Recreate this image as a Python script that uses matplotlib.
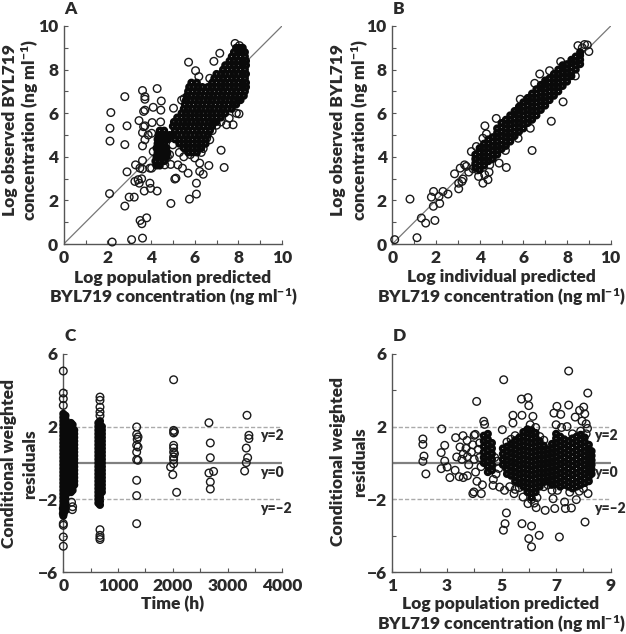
import matplotlib
matplotlib.use('Agg')
import matplotlib.pyplot as plt

W, H = 626, 634

# --- panel A: (x, y) scattered points and dense cloud as (y, [x...]) rows
a_points = [(2.16,6.03),(2.12,5.31),(2.12,4.72),(2.8,6.76),(2.9,5.42),(2.8,4.56),(2.9,3.31),(2.1,2.31),
            (3.0,2.15),(3.23,2.15),(2.8,1.74),(2.22,0.09),(3.11,0.2),(3.61,0.27),(3.5,1.08),(3.58,0.93),
            (3.8,1.2),(3.61,7.04),(3.72,6.76),(3.72,6.64),(4.28,7.13),(4.47,6.56),(4.1,6.27),(4.45,6.14),
            (3.72,6.14),(3.66,6.08),(3.45,5.66),(4.05,5.57),(4.44,5.6),(3.72,5.42),(3.66,5.38),(3.61,5.11),
            (3.72,4.78),(3.61,4.5),(3.87,5.0),(4.03,5.08),(4.1,4.24),(3.61,3.83),(3.29,3.63),(3.49,3.48),
            (3.61,3.44),(3.95,3.48),(4.03,3.48),(3.41,2.95),(3.26,2.87),(3.57,2.99),(3.46,2.79),(3.95,2.79),
            (3.98,2.55),(3.69,2.43),(4.28,2.43),(4.91,1.86),(5.14,3.02),(5.09,2.98),(5.23,3.63),(5.7,3.25),
            (5.44,3.48),(6.08,2.79),(6.08,2.29),(5.76,2.06),(6.23,3.71),(6.23,3.33),(6.39,3.2),(6.65,3.6),
            (7.21,4.3),(7.35,3.51),(4.63,3.63),(5.72,8.34),(6.04,7.95),(7.15,8.75),(6.88,8.38),(6.19,7.68),
            (6.69,7.6),(5.03,6.23),(5.4,6.6),(5.52,6.67),(7.76,5.47),(7.46,5.47),(7.91,6.0),(8.03,5.97),
            (7.58,5.77),(6.69,4.78),(6.39,4.38),(5.3,4.2),(5.5,4.0),(5.8,4.1),(6.0,3.95),(6.3,4.2),(4.85,4.1),
            (7.0,5.45),(6.8,5.2),(7.2,5.6),(6.55,4.85),(4.9,3.65),(4.75,4.0),(5.0,4.55),(7.85,9.2),(8.05,9.1)]
a_rows = [(3.6,[4.25,4.4]),
          (3.8,[4.2,4.4,4.6]),
          (4.0,[4.25,4.4,4.55,4.7]),
          (4.2,[4.3,4.45,4.6,4.75,5.7,5.9,6.1]),
          (4.4,[4.25,4.4,4.55,4.7,5.5,5.7,5.9,6.1,6.3]),
          (4.6,[4.3,4.45,4.6,5.3,5.5,5.7,5.9,6.1,6.3,6.5]),
          (4.8,[4.3,4.45,4.6,4.75,5.1,5.3,5.5,5.7,5.9,6.1,6.3,6.5]),
          (5.0,[4.35,4.5,4.65,4.85,5.0,5.2,5.4,5.6,5.8,6.0,6.2,6.4,6.6]),
          (5.2,[4.4,4.6,5.1,5.3,5.5,5.7,5.9,6.1,6.3,6.5,6.7]),
          (5.4,[5.0,5.2,5.4,5.6,5.8,6.0,6.2,6.4,6.6,6.8]),
          (5.6,[5.05,5.25,5.45,5.65,5.85,6.05,6.25,6.45,6.65,6.85,7.0]),
          (5.8,[5.2,5.4,5.6,5.8,6.0,6.2,6.4,6.6,6.8,7.0,7.2]),
          (6.0,[5.4,5.6,5.8,6.0,6.2,6.4,6.6,6.8,7.0,7.2,7.4]),
          (6.2,[5.5,5.7,5.9,6.1,6.3,6.5,6.7,6.9,7.1,7.3,7.5,7.7]),
          (6.4,[5.55,5.75,5.95,6.15,6.35,6.55,6.75,6.95,7.15,7.35,7.55,7.75,7.9]),
          (6.6,[5.6,5.8,6.0,6.2,6.4,6.6,6.8,7.0,7.2,7.4,7.6,7.8,8.0,8.1]),
          (6.8,[5.65,5.85,6.05,6.25,6.45,6.65,6.85,7.05,7.25,7.45,7.65,7.85,8.05,8.25]),
          (7.0,[5.7,5.9,6.1,6.3,6.5,6.7,6.9,7.1,7.3,7.5,7.7,7.9,8.1,8.3]),
          (7.2,[5.75,5.95,6.15,6.35,6.6,6.8,7.0,7.2,7.4,7.6,7.8,8.0,8.2,8.35]),
          (7.4,[5.85,6.1,6.8,7.0,7.2,7.4,7.6,7.8,8.0,8.2,8.35]),
          (7.6,[6.9,7.1,7.3,7.5,7.7,7.9,8.1,8.3]),
          (7.8,[7.0,7.2,7.4,7.6,7.8,8.0,8.2,8.35]),
          (8.0,[7.3,7.5,7.7,7.9,8.1,8.3]),
          (8.2,[7.4,7.6,7.8,8.0,8.2,8.35]),
          (8.4,[7.6,7.8,8.0,8.2,8.35]),
          (8.6,[7.7,7.9,8.1,8.3]),
          (8.8,[7.8,8.0,8.15,8.3]),
          (9.0,[7.9,8.05,8.2])]

# --- panel B: scattered points and cloud as (x, [y...]) columns
b_points = [(0.81,2.06),(0.11,0.2),(1.13,0.29),(1.33,1.19),(1.53,0.96),(1.95,1.08),(1.88,1.73),(1.79,2.15),
            (1.89,2.41),(2.14,2.18),(2.17,1.86),(2.32,2.41),(2.55,2.29),(2.85,3.22),(3.04,2.53),(3.04,2.79),
            (3.19,2.87),(3.11,3.48),(3.31,3.63),(3.39,3.56),(3.24,2.98),(3.62,4.24),(3.85,4.47),(3.95,3.1),
            (4.15,2.79),(4.38,2.95),(4.23,3.18),(4.43,3.3),(4.46,3.63),(4.89,3.71),(5.22,3.51),(5.18,4.29),
            (6.4,4.29),(7.28,5.63),(7.82,6.52),(6.32,5.31),(5.76,4.85),(4.24,5.42),(4.31,5.05),(4.76,5.76),
            (4.15,4.85),(6.75,7.8),(7.2,7.95),(7.71,8.37),(6.52,7.37),(5.86,6.64),(8.38,7.71),(8.5,9.1),
            (8.93,9.13),(9.0,8.83),(8.7,9.0),(8.8,9.15),(3.7,3.45),(3.5,3.3),(3.9,3.4)]
b_cols = [(3.8,[3.5,3.7,3.9,4.1]),
          (4.0,[3.4,3.6,3.8,4.0,4.2,4.4]),
          (4.2,[3.6,3.8,4.0,4.2,4.4,4.6]),
          (4.4,[3.8,4.0,4.2,4.4,4.6,4.8]),
          (4.6,[3.9,4.1,4.3,4.5,4.7,4.9]),
          (4.8,[4.1,4.3,4.5,4.7,4.9,5.1,5.3]),
          (5.0,[4.35,4.55,4.75,4.95,5.15,5.35,5.55]),
          (5.2,[4.5,4.7,4.9,5.1,5.3,5.5,5.7]),
          (5.4,[4.7,4.9,5.1,5.3,5.5,5.7,5.9]),
          (5.6,[4.95,5.15,5.35,5.55,5.75,5.95,6.1]),
          (5.8,[5.15,5.35,5.55,5.75,5.95,6.15,6.3]),
          (6.0,[5.3,5.5,5.7,5.9,6.1,6.3,6.5]),
          (6.2,[5.55,5.75,5.95,6.15,6.35,6.55,6.7]),
          (6.4,[5.7,5.9,6.1,6.3,6.5,6.7,6.9]),
          (6.6,[5.9,6.1,6.3,6.5,6.7,6.9,7.1]),
          (6.8,[6.15,6.35,6.55,6.75,6.95,7.15,7.3]),
          (7.0,[6.35,6.55,6.75,6.95,7.15,7.35,7.5]),
          (7.2,[6.6,6.8,7.0,7.2,7.4,7.6]),
          (7.4,[6.8,7.0,7.2,7.4,7.6,7.8]),
          (7.6,[7.0,7.2,7.4,7.6,7.8,8.0]),
          (7.8,[7.25,7.45,7.65,7.85,8.05,8.2]),
          (8.0,[7.45,7.65,7.85,8.05,8.25]),
          (8.2,[7.7,7.9,8.1,8.3,8.45]),
          (8.4,[8.0,8.2,8.4,8.6]),
          (8.6,[8.25,8.45,8.65,8.8])]

# --- panel C: time after dose
c_points = [(0,5.05),(0,3.84),(0,3.53),(0,3.16),(0,-3.33),(0,-3.42),(0,-4.06),(0,-4.57),(0,-2.78),(0,-2.5),
            (165,-2.56),(170,-2.4),(150,-2.15),(670,3.62),(670,3.44),(670,3.07),(670,2.8),(670,2.6),
            (670,-3.66),(670,-3.97),(670,-4.1),(670,-4.2),
            (1340,1.98),(1340,1.57),(1365,1.43),(1350,1.3),(1340,0.97),(1365,0.88),(1340,0.6),(1340,0.18),(1365,0.15),
            (1340,-0.95),(1340,-1.79),(1340,-3.33),
            (2015,4.57),(2015,1.79),(2015,1.65),(2030,1.72),(2015,0.97),(2015,0.82),(2015,0.6),(2030,0.51),(2015,0.33),
            (2015,0.18),(2015,-0.04),(1960,-0.22),(2000,-0.64),(2070,-1.61),
            (2660,2.21),(2685,1.1),(2685,0.29),(2660,-0.55),(2745,-0.46),(2685,-1.04),(2685,-1.43),
            (3355,2.62),(3390,1.52),(3390,1.34),(3342,0.82),(3367,0.29),(3342,0.02),(3312,-0.44)]
c_cols = [(0,[-2.9,-2.7,-2.5,-2.3,-2.1,-1.9,-1.7,-1.5,-1.3,-1.1,-0.9,-0.7,-0.5,-0.3,-0.1,0.1,0.3,0.5,0.7,0.9,1.1,1.3,1.5,1.7,1.9,2.1,2.3,2.5,2.7]),
          (40,[-2.6,-2.4,-2.2,-2.0,-1.8,-1.6,-1.4,-1.2,-1.0,-0.8,-0.6,-0.4,-0.2,0.0,0.2,0.4,0.6,0.8,1.0,1.2,1.4,1.6,1.8,2.0,2.2,2.4,2.6]),
          (85,[-1.6,-1.4,-1.2,-1.0,-0.8,-0.6,-0.4,-0.2,0.0,0.2,0.4,0.6,0.8,1.0,1.2,1.4]),
          (140,[-1.6,-1.4,-1.2,-1.0,-0.8,-0.6,-0.4,-0.2,0.0,0.2,0.4,0.6,0.8,1.0,1.2,1.4,1.6,1.8,2.0,2.2]),
          (170,[-1.5,-1.3,-1.1,-0.9,-0.7,-0.5,-0.3,-0.1,0.1,0.3,0.5,0.7,0.9,1.1,1.3,1.5,1.7,1.9,2.1]),
          (200,[-1.2,-1.0,-0.8,-0.6,-0.4,-0.2,0.0,0.2,0.4,0.6,0.8,1.0,1.2,1.4,1.6,1.8]),
          (640,[-2.2,-2.0,-1.8,-1.6,-1.4,-1.2,-1.0,-0.8,-0.6,-0.4,-0.2,0.0,0.2,0.4,0.6,0.8,1.0,1.2,1.4,1.6,1.8,2.0,2.2]),
          (670,[-2.3,-2.1,-1.9,-1.7,-1.5,-1.3,-1.1,-0.9,-0.7,-0.5,-0.3,-0.1,0.1,0.3,0.5,0.7,0.9,1.1,1.3,1.5,1.7,1.9,2.1,2.3]),
          (705,[-1.6,-1.4,-1.2,-1.0,-0.8,-0.6,-0.4,-0.2,0.0,0.2,0.4,0.6,0.8,1.0,1.2,1.4,1.6,1.8,2.0])]

# --- panel D: residuals against population prediction
d_points = [(5.08,4.57),(7.46,5.05),(8.16,3.84),(4.09,3.38),(5.73,3.51),(5.97,3.59),(6.0,3.15),(7.03,3.11),
            (7.46,3.18),(8.01,3.07),(5.42,2.62),(5.75,2.62),(6.15,2.56),(6.92,2.74),(7.17,2.67),(7.86,2.89),
            (8.05,2.7),(7.7,2.52),(4.35,2.29),(4.38,2.12),(5.42,2.2),(5.03,1.83),(2.81,1.87),(2.12,1.32),
            (2.12,1.02),(2.92,0.97),(2.79,0.57),(2.16,0.38),(2.12,0.09),(2.23,-0.6),(2.92,0.11),(2.79,-0.31),
            (3.01,-0.22),(3.11,-0.8),(3.32,1.39),(3.36,0.33),(3.48,0.88),(3.59,1.5),(3.74,1.24),(4.0,1.52),
            (4.04,1.57),(3.95,-1.68),(3.99,-1.59),(4.26,-1.68),(4.69,-1.23),(4.93,-1.32),(5.18,-2.74),(5.13,-3.33),
            (5.07,-3.69),(5.75,-3.33),(6.1,-3.46),(6.0,-4.15),(6.1,-4.6),(6.38,-3.97),(7.12,-4.06),(8.06,-3.24),
            (6.6,-2.6),(6.95,-2.5),(7.34,-2.5),(7.56,-2.47),(6.27,-2.45),(5.97,-2.23),(6.89,-1.96),(7.31,-2.14),
            (7.74,-2.01),(8.17,-1.68),(5.46,-1.68),(5.11,-1.5),(5.79,-1.87),(3.3,-0.4),(3.45,-0.75),(3.6,-0.8),
            (3.55,0.2),(3.6,0.5),(3.7,0.8),(3.75,0.35),(3.8,-0.1),(3.75,-0.7),(3.9,0.6),(3.95,1.0),(4.0,0.2),
            (4.05,-0.5),(4.1,-1.0),(4.15,0.75),(4.2,1.1),(4.2,0.3),(4.25,-0.2),(4.3,-1.2),(4.75,0.3),(4.85,0.1),
            (4.8,-0.6),(4.9,-0.3),(4.7,-0.9),(6.1,-2.0),(6.2,-2.2),(6.3,-1.9),(6.05,2.1),(6.25,1.95),(7.2,1.95),
            (7.0,2.1),(7.4,2.0),(7.95,2.3),(8.1,2.15),(8.15,1.9),(5.3,-1.3),(5.5,-1.45),(5.65,-1.35),(6.55,-1.3),
            (6.7,-1.2),(6.85,-1.5),(7.05,-1.5),(7.5,-1.6),(7.85,-1.55),(8.0,-1.4),(7.6,1.6),(7.9,1.75),(8.1,1.6),
            (6.4,1.45),(6.55,1.25),(5.2,1.15),(5.35,1.3),(5.5,1.5)]
d_cols = [(4.35,[0.0,0.3,0.6,0.9,1.2,1.5]),
          (4.5,[-0.5,-0.2,0.1,0.4,0.7,1.0,1.3,1.6]),
          (4.65,[-0.4,-0.1,0.2,0.5,0.8,1.1]),
          (5.05,[-0.1,0.2,0.5,0.8]),
          (5.2,[-0.6,-0.35,-0.1,0.15,0.4,0.65,0.9]),
          (5.35,[-0.7,-0.45,-0.2,0.05,0.3,0.55,0.8,1.05]),
          (5.5,[-1.0,-0.75,-0.5,-0.25,0.0,0.25,0.5,0.75,1.0,1.25]),
          (5.65,[-1.1,-0.85,-0.6,-0.35,-0.1,0.15,0.4,0.65,0.9,1.15,1.4]),
          (5.8,[-1.3,-1.05,-0.8,-0.55,-0.3,-0.05,0.2,0.45,0.7,0.95,1.2,1.45,1.7]),
          (5.95,[-1.6,-1.35,-1.1,-0.85,-0.6,-0.35,-0.1,0.15,0.4,0.65,0.9,1.15,1.4,1.65,1.85]),
          (6.1,[-1.9,-1.65,-1.4,-1.15,-0.9,-0.65,-0.4,-0.15,0.1,0.35,0.6,0.85,1.1,1.35,1.6,1.8]),
          (6.25,[-1.6,-1.35,-1.1,-0.85,-0.6,-0.35,-0.1,0.15,0.4,0.65,0.9,1.15,1.4,1.65]),
          (6.4,[-1.3,-1.05,-0.8,-0.55,-0.3,-0.05,0.2,0.45,0.7,0.95,1.2]),
          (6.55,[-1.05,-0.8,-0.55,-0.3,-0.05,0.2,0.45,0.7,0.95]),
          (6.7,[-1.0,-0.75,-0.5,-0.25,0.0,0.25,0.5,0.75]),
          (6.85,[-1.2,-0.95,-0.7,-0.45,-0.2,0.05,0.3,0.55,0.8,1.05]),
          (7.0,[-1.15,-0.9,-0.65,-0.4,-0.15,0.1,0.35,0.6,0.85,1.1,1.35,1.6]),
          (7.15,[-1.3,-1.05,-0.8,-0.55,-0.3,-0.05,0.2,0.45,0.7,0.95,1.2,1.45]),
          (7.3,[-1.2,-0.95,-0.7,-0.45,-0.2,0.05,0.3,0.55,0.8,1.05,1.3]),
          (7.45,[-1.3,-1.05,-0.8,-0.55,-0.3,-0.05,0.2,0.45,0.7,0.95,1.2]),
          (7.6,[-1.4,-1.15,-0.9,-0.65,-0.4,-0.15,0.1,0.35,0.6,0.85,1.1,1.35]),
          (7.75,[-1.3,-1.05,-0.8,-0.55,-0.3,-0.05,0.2,0.45,0.7,0.95,1.2,1.45]),
          (7.9,[-1.2,-0.95,-0.7,-0.45,-0.2,0.05,0.3,0.55,0.8,1.05,1.3,1.55]),
          (8.05,[-1.1,-0.85,-0.6,-0.35,-0.1,0.15,0.4,0.65,0.9,1.15,1.4]),
          (8.2,[-1.0,-0.75,-0.5,-0.25,0.0,0.25,0.5,0.75,1.0]),
          (8.3,[-0.6,-0.35,-0.1,0.15,0.4,0.65])]

plt.rcParams['font.family'] = ['Lato', 'DejaVu Sans']
plt.rcParams['font.weight'] = 'heavy'
plt.rcParams['mathtext.fontset'] = 'custom'
plt.rcParams['mathtext.rm'] = 'Lato:heavy'
plt.rcParams['mathtext.default'] = 'regular'

TXT = '#2a2a2a'
AX = '#555555'
FS = 12.5
FS_REF = 10


def add_axes(fig, left, top, right, bottom):
    return fig.add_axes([left / W, 1 - bottom / H, (right - left) / W, (bottom - top) / H])


def label(fig, x, y, s, **kw):
    fig.text(x / W, 1 - y / H, s, color=TXT, ha='center', va='center', fontsize=FS, **kw)


def rings(ax, pts):
    ax.scatter([p[0] for p in pts], [p[1] for p in pts], s=30, facecolors='none',
               edgecolors='#1a1a1a', linewidths=1.0, clip_on=False, zorder=3)


def cloud(ax, pts):
    # heavier stroke so that the overlapping rings close up to solid black
    ax.scatter([p[0] for p in pts], [p[1] for p in pts], s=11, facecolors='none',
               edgecolors='#0a0a0a', linewidths=2.5, clip_on=False, zorder=3)


def style(ax, xlim, ylim, xticks, xminor, yticks, yminor, xlabels=None, ylabels=None):
    ax.set_xlim(xlim)
    ax.set_ylim(ylim)
    ax.spines['top'].set_visible(False)
    ax.spines['right'].set_visible(False)
    for s in ['left', 'bottom']:
        ax.spines[s].set_color(AX)
        ax.spines[s].set_linewidth(1.0)
    ax.set_xticks(xticks)
    ax.set_xticks(xminor, minor=True)
    ax.set_yticks(yticks)
    ax.set_yticks(yminor, minor=True)
    if xlabels:
        ax.set_xticklabels(xlabels)
    if ylabels:
        ax.set_yticklabels(ylabels)
    ax.tick_params(which='both', direction='in', length=3, width=0.8, color=AX,
                   labelsize=FS, labelcolor=TXT, pad=4)


def rows_to_points(rows):
    return [(x, y) for y, xs in rows for x in xs]


def cols_to_points(cols):
    return [(x, y) for x, ys in cols for y in ys]


fig = plt.figure(figsize=(W / 100, H / 100), dpi=100)

# A
ax_a = add_axes(fig, 63.7, 26, 282, 244)
style(ax_a, (0, 10), (0, 10), [0, 2, 4, 6, 8, 10], [1, 3, 5, 7, 9], [0, 2, 4, 6, 8, 10], [1, 3, 5, 7, 9])
ax_a.plot([0, 10], [0, 10], color='#777777', lw=0.9, zorder=2)
rings(ax_a, a_points)
cloud(ax_a, rows_to_points(a_rows))

# B
ax_b = add_axes(fig, 392.3, 26, 610.7, 244)
style(ax_b, (0, 10), (0, 10), [0, 2, 4, 6, 8, 10], [1, 3, 5, 7, 9], [0, 2, 4, 6, 8, 10], [1, 3, 5, 7, 9])
ax_b.plot([0, 10], [0, 10], color='#777777', lw=0.9, zorder=2)
rings(ax_b, b_points)
cloud(ax_b, cols_to_points(b_cols))

# C
ax_c = add_axes(fig, 63.3, 353.7, 282.3, 572.3)
style(ax_c, (0, 4000), (-6, 6), [0, 1000, 2000, 3000, 4000], [500, 1500, 2500, 3500],
      [-6, -2, 2, 6], [-4, 0, 4], ylabels=['\u22126', '\u22122', '2', '6'])
ax_c.axhline(0, color='#808080', lw=1.6, zorder=2)
for yy in (2, -2):
    ax_c.axhline(yy, color='#aaaaaa', lw=1.0, ls=(0, (3, 1.5)), zorder=2)
rings(ax_c, c_points)
cloud(ax_c, cols_to_points(c_cols))
ax_c.text(3590, 1.5, 'y=2', color=TXT, fontsize=FS_REF, va='center', clip_on=False)
ax_c.text(3590, -0.5, 'y=0', color=TXT, fontsize=FS_REF, va='center', clip_on=False)
ax_c.text(3590, -2.5, 'y=\u20132', color=TXT, fontsize=FS_REF, va='center', clip_on=False)

# D
ax_d = add_axes(fig, 392.3, 353.7, 610.7, 572.3)
style(ax_d, (1, 9), (-6, 6), [1, 3, 5, 7, 9], [2, 4, 6, 8],
      [-6, -2, 2, 6], [-4, 0, 4], ylabels=['\u22126', '\u22122', '2', '6'])
ax_d.axhline(0, color='#808080', lw=1.6, zorder=2)
for yy in (2, -2):
    ax_d.axhline(yy, color='#aaaaaa', lw=1.0, ls=(0, (3, 1.5)), zorder=2)
rings(ax_d, d_points)
cloud(ax_d, cols_to_points(d_cols))
ax_d.text(8.38, 1.5, 'y=2', color=TXT, fontsize=FS_REF, va='center', clip_on=False)
ax_d.text(8.38, -0.5, 'y=0', color=TXT, fontsize=FS_REF, va='center', clip_on=False)
ax_d.text(8.38, -2.5, 'y=\u20132', color=TXT, fontsize=FS_REF, va='center', clip_on=False)

# panel letters
for x, y, s in [(70, 9, 'A'), (399, 9, 'B'), (70, 336, 'C'), (399, 336, 'D')]:
    label(fig, x, y, s)

conc = 'BYL719 concentration (ng ml$^{-1}$)'

# axis titles
label(fig, 10, 130, 'Log observed BYL719', rotation=90)
label(fig, 30, 130, 'concentration (ng ml$^{-1}$)', rotation=90)
label(fig, 338, 130, 'Log observed BYL719', rotation=90)
label(fig, 360, 130, 'concentration (ng ml$^{-1}$)', rotation=90)
label(fig, 173, 278, 'Log population predicted')
label(fig, 173, 297, conc)
label(fig, 501, 277, 'Log individual predicted')
label(fig, 501, 297, conc)
label(fig, 9.5, 464, 'Conditional weighted', rotation=90)
label(fig, 30, 464, 'residuals', rotation=90)
label(fig, 338, 462, 'Conditional weighted', rotation=90)
label(fig, 360, 462, 'residuals', rotation=90)
label(fig, 173, 604, 'Time (h)')
label(fig, 501, 604, 'Log population predicted')
label(fig, 501, 624, conc)

fig.savefig('out.png', dpi=100)
